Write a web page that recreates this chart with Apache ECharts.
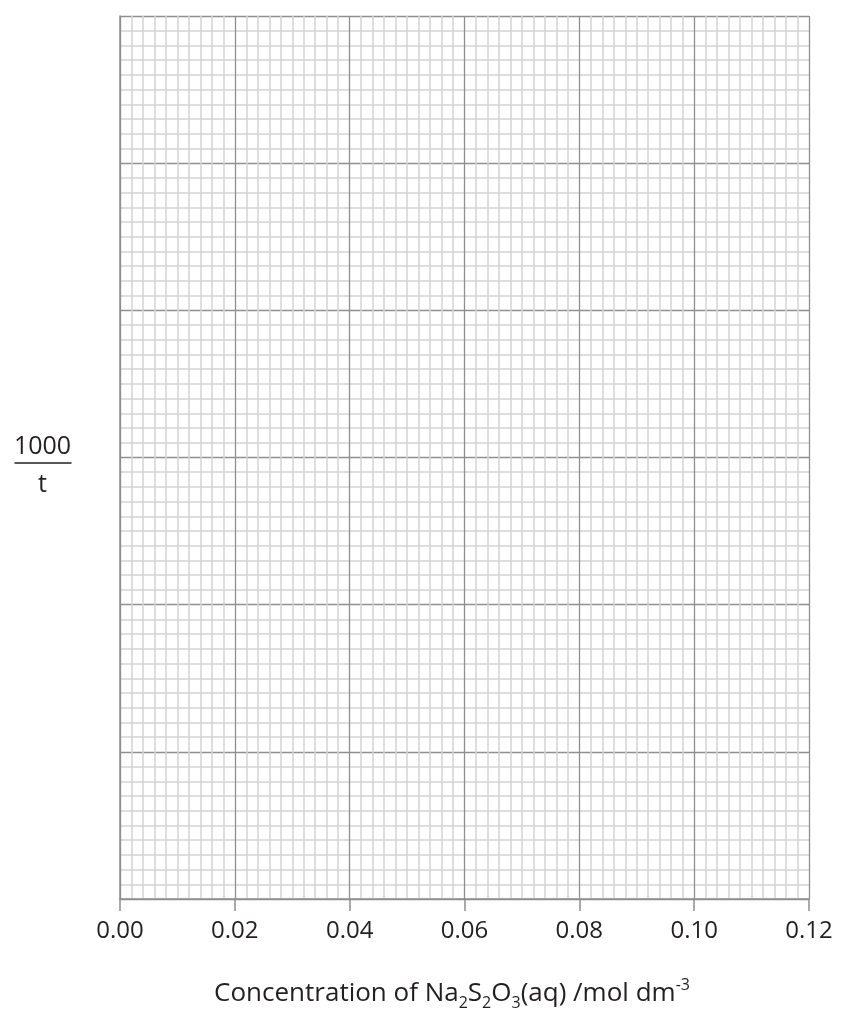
<!DOCTYPE html>
<html>
<head>
<meta charset="utf-8">
<script src="https://cdn.jsdelivr.net/npm/echarts@6/dist/echarts.min.js"></script>
<style>
  html, body { margin: 0; padding: 0; background: #fff; }
  #chart { width: 843px; height: 1012px; }
</style>
</head>
<body>
<div id="chart"></div>
<script>
// Graph paper for plotting 1000/t against thiosulfate concentration
const xTickLabels = ['0.00', '0.02', '0.04', '0.06', '0.08', '0.10', '0.12'];
const xMin = 0;
const xMax = 0.12;
const xStep = 0.02;
const yMin = 0;
const yMax = 6;
const yStep = 1;
const plottedPoints = []; // left empty: blank grid for students to plot on

const FONT = '"Open Sans", "Noto Sans", sans-serif';
const INK = '#231f20';
const MAJOR = '#8f8f8f';
const MINOR = '#d4d4d4';

const chart = echarts.init(document.getElementById('chart'), null, { renderer: 'canvas' });

chart.setOption({
  backgroundColor: '#ffffff',
  animation: false,
  grid: { left: 120, right: 34, top: 16, bottom: 113, containLabel: false, outerBoundsMode: 'none' },
  xAxis: {
    type: 'value',
    min: xMin,
    max: xMax,
    interval: xStep,
    name: '{t|Concentration of Na}{s|2}{t|S}{s|2}{t|O}{s|3}{t|(aq) /mol dm}{p|-3}',
    nameLocation: 'middle',
    nameGap: 78,
    nameTextStyle: {
      padding: [0, 25, 0, 0],
      rich: {
        t: { fontFamily: FONT, fontSize: 26, color: INK, lineHeight: 34, verticalAlign: 'middle' },
        s: { fontFamily: FONT, fontSize: 16, color: INK, lineHeight: 34, verticalAlign: 'bottom', padding: [10, 0, 0, 0] },
        p: { fontFamily: FONT, fontSize: 16, color: INK, lineHeight: 34, verticalAlign: 'top', padding: [0, 0, 8, 0] }
      }
    },
    axisLine: { show: true, lineStyle: { color: MAJOR, width: 1.5 } },
    axisTick: { show: true, length: 12, lineStyle: { color: MAJOR, width: 1.5 } },
    axisLabel: {
      margin: 20,
      fontFamily: FONT,
      fontSize: 24,
      color: INK,
      formatter: function (v) {
        return xTickLabels[Math.round((v - xMin) / xStep)];
      }
    },
    splitLine: { show: true, lineStyle: { color: MAJOR, width: 1.3 } },
    minorTick: { show: false, splitNumber: 10 },
    minorSplitLine: { show: true, lineStyle: { color: MINOR, width: 1.5 } }
  },
  yAxis: {
    type: 'value',
    min: yMin,
    max: yMax,
    interval: yStep,
    axisLine: { show: true, onZero: false, lineStyle: { color: MAJOR, width: 1.5 } },
    axisTick: { show: false },
    axisLabel: { show: false },
    splitLine: { show: true, lineStyle: { color: MAJOR, width: 1.3 } },
    minorTick: { show: false, splitNumber: 10 },
    minorSplitLine: { show: true, lineStyle: { color: MINOR, width: 1.5 } }
  },
  graphic: [
    {
      type: 'group',
      left: 12,
      top: 434,
      children: [
        { type: 'text', x: 28, y: 0, style: { text: '1000', font: '25px ' + FONT, fill: INK, align: 'center', verticalAlign: 'top' } },
        { type: 'line', shape: { x1: 0, y1: 29, x2: 57, y2: 29 }, style: { stroke: INK, lineWidth: 1.6 } },
        { type: 'text', x: 28, y: 38, style: { text: 't', font: '25px ' + FONT, fill: INK, align: 'center', verticalAlign: 'top' } }
      ]
    }
  ],
  series: [
    { type: 'scatter', data: plottedPoints, symbolSize: 6 }
  ]
});
</script>
</body>
</html>
